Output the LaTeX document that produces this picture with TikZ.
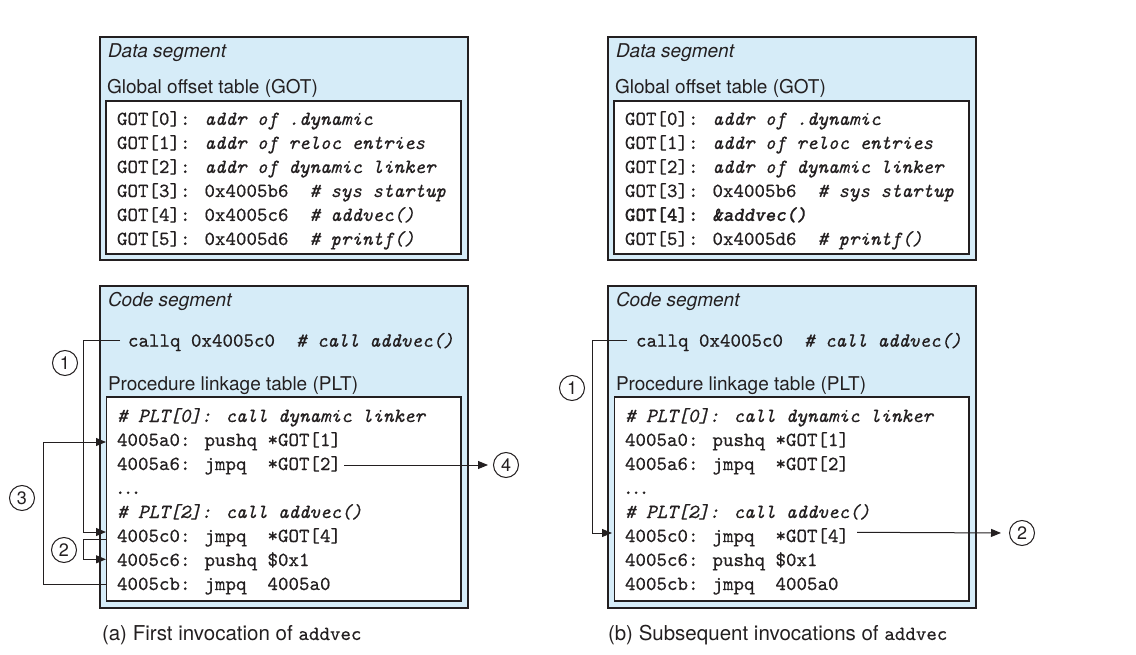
\documentclass[tikz,border=0pt]{standalone}
\usepackage{fontspec}
\setsansfont{TeX Gyre Heros}
\newfontfamily\cmono{lmmono10-regular.otf}[ItalicFont=lmmono10-italic.otf, BoldFont=lmmonolt10-bold.otf, BoldItalicFont=lmmonolt10-boldoblique.otf, FakeBold=0.5]
\usetikzlibrary{arrows.meta,calc}
\definecolor{segblue}{RGB}{214,236,248}
\definecolor{ink}{RGB}{35,31,32}
\newcommand\codefont{\fontsize{20}{24}\selectfont\cmono}
\newcommand\labfont{\fontsize{19}{23}\selectfont\sffamily}
\newcommand\capfont{\fontsize{20.5}{24}\selectfont\sffamily}
\newcommand\numfont{\fontsize{18}{20}\selectfont\sffamily}
\begin{document}
\begin{tikzpicture}[x=1pt,y=-1pt,
  segbox/.style={draw=ink, line width=1.4pt, fill=segblue, anchor=north west, inner sep=0pt, outer sep=0pt},
  tabbox/.style={draw=ink, line width=1.2pt, fill=white, anchor=north west, inner sep=0pt, outer sep=0pt},
  code/.style={anchor=base west, inner sep=0pt, outer sep=0pt, font=\codefont, text=ink},
  lab/.style={anchor=base west, inner sep=0pt, outer sep=0pt, font=\labfont, text=ink},
  captext/.style={anchor=base west, inner sep=0pt, outer sep=0pt, font=\capfont, text=ink},
  num/.style={circle, draw=ink, line width=1pt, minimum size=25pt, inner sep=0pt, font=\numfont, text=ink},
  conn/.style={draw=ink, line width=1pt},
  arr/.style={conn, -{Triangle[length=10pt,width=8pt]}},
]
\useasboundingbox (0,0) rectangle (1136,655);

% ================= Panel (a) =================
\node[segbox, minimum width=368pt, minimum height=223pt] (dataA) at (100,37) {};
\node[lab] (dsA) at (108,57.3) {\itshape Data segment};
\node[lab] (gotlA) at (107,93.3) {Global offset table (GOT)};
\node[tabbox, minimum width=355pt, minimum height=153pt] (gotA) at (106,101) {};
\node[code] (g0A) at (117,125) {GOT[0]: {\itshape addr of .dynamic}};
\node[code] (g1A) at (117,149) {GOT[1]: {\itshape addr of reloc entries}};
\node[code] (g2A) at (117,173) {GOT[2]: {\itshape addr of dynamic linker}};
\node[code] (g3A) at (117,197) {GOT[3]: 0x4005b6\ \ {\itshape\# sys startup}};
\node[code] (g4A) at (117,221) {GOT[4]: 0x4005c6\ \ {\itshape\# addvec()}};
\node[code] (g5A) at (117,245) {GOT[5]: 0x4005d6\ \ {\itshape\# printf()}};

\node[segbox, minimum width=368pt, minimum height=322pt] (codeA) at (100,286) {};
\node[lab] (csA) at (108,306.7) {\itshape Code segment};
\node[code] (callA) at (128,346.7) {callq 0x4005c0\ \ {\itshape\# call addvec()}};
\node[lab] (pltlA) at (108,390) {Procedure linkage table (PLT)};
\node[tabbox, minimum width=354.5pt, minimum height=204pt] (pltA) at (106.5,397) {};
\node[code] (p0A) at (117,422) {{\itshape\# PLT[0]: call dynamic linker}};
\node[code] (pa0A) at (117,446) {4005a0: pushq *GOT[1]};
\node[code] (pa6A) at (117,470) {4005a6: jmpq\ \ *GOT[2]};
\node[code] (pdA) at (115,494) {.\kern-2.6pt.\kern-2.6pt.};
\node[code] (p2A) at (117,518) {{\itshape\# PLT[2]: call addvec()}};
\node[code] (pc0A) at (117,542) {4005c0: jmpq\ \ *GOT[4]};
\node[code] (pc6A) at (117,566) {4005c6: pushq \$0x1};
\node[code] (pcbA) at (117,590) {4005cb: jmpq\ \ 4005a0};

\node[num] (n1A) at (65,363) {1};
\node[num] (n3A) at (22,498) {3};
\node[num] (n2A) at (64,550) {2};
\node[num] (n4A) at (506,465) {4};

% step 1
\draw[arr] ([shift={(-8,-6.7)}]callA.base west) -- ++(-37,0) |- ([shift={(-11,-10)}]pc0A.base west);
% step 2
\draw[arr] ([shift={(-11,-2.7)}]pc0A.base west) -- ++(-23,0) |- ([shift={(-11,-6.7)}]pc6A.base west);
% step 3
\draw[arr] ([shift={(-11,-6)}]pcbA.base west) -- ++(-63,0) |- ([shift={(-11,-4)}]pa0A.base west);
% step 4
\draw[arr, shorten >=5pt] ([shift={(3,-5)}]pa6A.base east) -- (n4A.west);

\node[captext] (capA) at (102,640) {(a) First invocation of {\fontsize{20}{24}\selectfont\cmono addvec}};

% ================= Panel (b) =================
\node[segbox, minimum width=368pt, minimum height=223pt] (dataB) at (608,37) {};
\node[lab] (dsB) at (616,57.3) {\itshape Data segment};
\node[lab] (gotlB) at (615,93.3) {Global offset table (GOT)};
\node[tabbox, minimum width=355pt, minimum height=153pt] (gotB) at (614,101) {};
\node[code] (g0B) at (625,125) {GOT[0]: {\itshape addr of .dynamic}};
\node[code] (g1B) at (625,149) {GOT[1]: {\itshape addr of reloc entries}};
\node[code] (g2B) at (625,173) {GOT[2]: {\itshape addr of dynamic linker}};
\node[code] (g3B) at (625,197) {GOT[3]: 0x4005b6\ \ {\itshape\# sys startup}};
\node[code] (g4B) at (625,221) {\bfseries GOT[4]: {\itshape\&addvec()}};
\node[code] (g5B) at (625,245) {GOT[5]: 0x4005d6\ \ {\itshape\# printf()}};

\node[segbox, minimum width=368pt, minimum height=322pt] (codeB) at (608,286) {};
\node[lab] (csB) at (616,306.7) {\itshape Code segment};
\node[code] (callB) at (636,346.7) {callq 0x4005c0\ \ {\itshape\# call addvec()}};
\node[lab] (pltlB) at (616,390) {Procedure linkage table (PLT)};
\node[tabbox, minimum width=354.5pt, minimum height=204pt] (pltB) at (614.5,397) {};
\node[code] (p0B) at (625,422) {{\itshape\# PLT[0]: call dynamic linker}};
\node[code] (pa0B) at (625,446) {4005a0: pushq *GOT[1]};
\node[code] (pa6B) at (625,470) {4005a6: jmpq\ \ *GOT[2]};
\node[code] (pdB) at (623,494) {.\kern-2.6pt.\kern-2.6pt.};
\node[code] (p2B) at (625,518) {{\itshape\# PLT[2]: call addvec()}};
\node[code] (pc0B) at (625,542) {4005c0: jmpq\ \ *GOT[4]};
\node[code] (pc6B) at (625,566) {4005c6: pushq \$0x1};
\node[code] (pcbB) at (625,590) {4005cb: jmpq\ \ 4005a0};

\node[num] (n1B) at (572,388) {1};
\node[num] (n2B) at (1022,533) {2};

\draw[arr] ([shift={(-9,-6)}]callB.base west) -- ++(-35,0) |- ([shift={(-13,-9)}]pc0B.base west);
\draw[arr, shorten >=8pt] ([shift={(8,-9.7)}]pc0B.base east) -- (n2B.west);

\node[captext] (capB) at (608,640) {(b) Subsequent invocations of {\fontsize{20}{24}\selectfont\cmono addvec}};
\end{tikzpicture}
\end{document}
